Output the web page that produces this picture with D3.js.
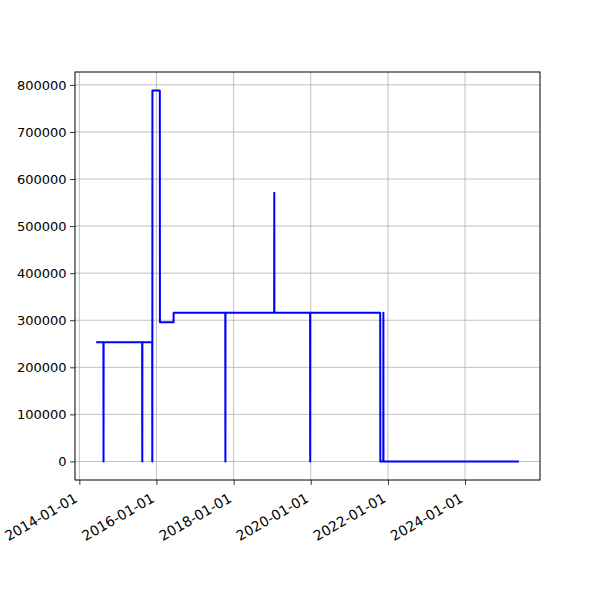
<!DOCTYPE html>
<html><head><meta charset="utf-8">
<script src="https://cdn.jsdelivr.net/npm/d3@7"></script>
<style>body{margin:0;background:#fff}svg{display:block}text{font-family:"DejaVu Sans",sans-serif}</style>
</head><body>
<script>
const dates = ["2014-06-09","2014-08-17","2014-08-18","2014-08-19","2015-08-19","2015-08-20","2015-08-21",
  "2015-11-22","2015-11-23","2015-11-24","2016-02-02","2016-02-03","2016-06-11","2016-06-12",
  "2017-10-14","2017-10-15","2017-10-16","2019-01-20","2019-01-21","2019-01-22",
  "2019-12-26","2019-12-27","2019-12-28","2021-10-20","2021-10-21","2021-11-18","2021-11-19","2021-11-20","2025-05-25"];
const values = [253000,253000,0,253000,253000,0,253000,
  253000,0,788000,788000,296000,296000,316000,
  316000,0,316000,316000,571000,316000,
  316000,0,316000,316000,0,0,316000,0,0];
const xTickLabels = ["2014-01-01","2016-01-01","2018-01-01","2020-01-01","2022-01-01","2024-01-01"];
const yTicks = [0,100000,200000,300000,400000,500000,600000,700000,800000];

const W=600,H=600, L=75,R=540,T=72,B=480;
const parse = d3.utcParse("%Y-%m-%d");
const data = dates.map((d,i)=>({t:parse(d), v:values[i]}));
const svg = d3.select("body").append("svg").attr("width",W).attr("height",H);

const tExt = d3.extent(data,d=>d.t);
const span = tExt[1]-tExt[0];
const x = d3.scaleUtc().domain([new Date(+tExt[0]-0.05*span), new Date(+tExt[1]+0.05*span)]).range([L,R]);
const vMax = d3.max(values), vMin = d3.min(values), vs = vMax-vMin;
const y = d3.scaleLinear().domain([vMin-0.05*vs, vMax+0.05*vs]).range([B,T]);

const xt = xTickLabels.map(parse);
// grid
svg.append("g").selectAll("line").data(xt).join("line")
  .attr("x1",d=>x(d)).attr("x2",d=>x(d)).attr("y1",T).attr("y2",B)
  .attr("stroke","#b0b0b0").attr("stroke-width",0.8);
svg.append("g").selectAll("line").data(yTicks).join("line")
  .attr("x1",L).attr("x2",R).attr("y1",d=>y(d)).attr("y2",d=>y(d))
  .attr("stroke","#b0b0b0").attr("stroke-width",0.8);

// line
svg.append("defs").append("clipPath").attr("id","c").append("rect").attr("x",L).attr("y",T).attr("width",R-L).attr("height",B-T);
svg.append("path").datum(data).attr("clip-path","url(#c)")
  .attr("d", d3.line().x(d=>x(d.t)).y(d=>y(d.v)))
  .attr("fill","none").attr("stroke","#0000ff").attr("stroke-width",2).attr("stroke-linejoin","round");

// axes
const ya = svg.append("g").attr("transform",`translate(${L},0)`)
  .call(d3.axisLeft(y).tickValues(yTicks).tickFormat(d3.format("d")).tickSize(4.9).tickPadding(3.5));
const xa = svg.append("g").attr("transform",`translate(0,${B})`)
  .call(d3.axisBottom(x).tickValues(xt).tickFormat((d,i)=>xTickLabels[i]).tickSize(4.9).tickPadding(3.5));
[ya,xa].forEach(g=>{g.select(".domain").remove();g.selectAll("line").attr("stroke","#000").attr("stroke-width",0.8);
  g.selectAll("text").attr("font-size",13).attr("fill","#000").attr("font-family","DejaVu Sans");});
xa.selectAll("text").attr("font-size",13.9).attr("text-anchor","end").attr("dy",null).attr("y",0)
  .attr("transform","translate(-1.5,21) rotate(-30)");
// frame
svg.append("rect").attr("x",L).attr("y",T).attr("width",R-L).attr("height",B-T)
  .attr("fill","none").attr("stroke","#000").attr("stroke-width",1);
</script>
</body></html>
